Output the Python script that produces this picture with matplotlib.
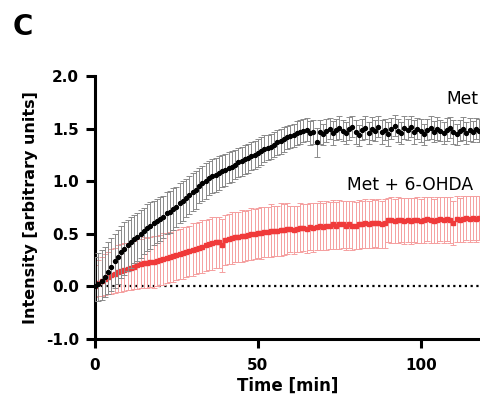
import matplotlib
matplotlib.use("Agg")
import matplotlib.pyplot as plt
import numpy as np

plt.rcParams['font.family'] = ['DejaVu Sans']

# tiempo en minutos (un punto por minuto)
tiempo = np.arange(0, 119)

# Met (negro)
met = [0.00, 0.02, 0.05, 0.09, 0.14, 0.19, 0.24, 0.28, 0.33, 0.36,
       0.39, 0.42, 0.45, 0.47, 0.50, 0.53, 0.56, 0.58, 0.60, 0.62,
       0.64, 0.66, 0.70, 0.71, 0.74, 0.76, 0.79, 0.81, 0.84, 0.87,
       0.90, 0.92, 0.96, 0.98, 1.00, 1.03, 1.05, 1.06, 1.08, 1.10,
       1.11, 1.13, 1.14, 1.16, 1.18, 1.19, 1.21, 1.22, 1.24, 1.25,
       1.27, 1.29, 1.31, 1.32, 1.33, 1.35, 1.37, 1.38, 1.40, 1.42,
       1.43, 1.44, 1.46, 1.47, 1.48, 1.49, 1.46, 1.47, 1.37, 1.47,
       1.45, 1.48, 1.50, 1.46, 1.49, 1.51, 1.48, 1.46, 1.50, 1.52,
       1.47, 1.44, 1.49, 1.51, 1.46, 1.50, 1.48, 1.52, 1.47, 1.49,
       1.45, 1.50, 1.53, 1.48, 1.46, 1.51, 1.49, 1.52, 1.47, 1.50,
       1.48, 1.45, 1.49, 1.51, 1.47, 1.50, 1.48, 1.46, 1.49, 1.51,
       1.47, 1.45, 1.48, 1.50, 1.46, 1.49, 1.47, 1.50, 1.48]
met_err = [0.28, 0.30, 0.30, 0.29, 0.28, 0.27, 0.26, 0.26, 0.25, 0.25,
           0.24, 0.24, 0.23, 0.23, 0.23, 0.22, 0.22, 0.22, 0.21, 0.21,
           0.21, 0.20, 0.20, 0.20, 0.20, 0.19, 0.19, 0.19, 0.18, 0.18,
           0.18, 0.18, 0.17, 0.17, 0.17, 0.16, 0.16, 0.16, 0.16, 0.15,
           0.15, 0.15, 0.15, 0.14, 0.14, 0.14, 0.14, 0.14, 0.13, 0.13,
           0.13, 0.13, 0.13, 0.12, 0.12, 0.12, 0.12, 0.12, 0.12, 0.11,
           0.11, 0.11, 0.11, 0.11, 0.11, 0.11, 0.11, 0.11, 0.14, 0.11,
           0.10, 0.11, 0.10, 0.11, 0.10, 0.11, 0.10, 0.10, 0.11, 0.10,
           0.11, 0.10, 0.10, 0.11, 0.10, 0.11, 0.10, 0.10, 0.11, 0.10,
           0.11, 0.10, 0.10, 0.11, 0.10, 0.11, 0.10, 0.10, 0.11, 0.10,
           0.11, 0.10, 0.10, 0.11, 0.10, 0.11, 0.10, 0.10, 0.11, 0.10,
           0.11, 0.10, 0.10, 0.11, 0.10, 0.11, 0.10, 0.10, 0.11]

# Met + 6-OHDA (rojo)
ohda = [0.00, 0.03, 0.05, 0.07, 0.09, 0.11, 0.12, 0.14, 0.15, 0.16,
        0.17, 0.18, 0.19, 0.20, 0.21, 0.22, 0.22, 0.23, 0.23, 0.24,
        0.25, 0.26, 0.27, 0.28, 0.29, 0.30, 0.31, 0.32, 0.33, 0.34,
        0.35, 0.36, 0.37, 0.38, 0.39, 0.40, 0.41, 0.42, 0.42, 0.39,
        0.44, 0.45, 0.46, 0.47, 0.47, 0.48, 0.48, 0.49, 0.50, 0.50,
        0.51, 0.51, 0.52, 0.52, 0.53, 0.53, 0.53, 0.54, 0.54, 0.55,
        0.55, 0.54, 0.55, 0.56, 0.56, 0.55, 0.57, 0.56, 0.57, 0.58,
        0.57, 0.58, 0.58, 0.59, 0.58, 0.59, 0.59, 0.58, 0.59, 0.58,
        0.58, 0.59, 0.59, 0.60, 0.59, 0.60, 0.60, 0.60, 0.59, 0.60,
        0.63, 0.63, 0.62, 0.63, 0.63, 0.62, 0.63, 0.62, 0.63, 0.63,
        0.62, 0.63, 0.64, 0.63, 0.62, 0.63, 0.64, 0.63, 0.64, 0.63,
        0.60, 0.64, 0.63, 0.64, 0.65, 0.64, 0.65, 0.64, 0.65]
ohda_err = [0.20, 0.22, 0.23, 0.24, 0.24, 0.25, 0.25, 0.25, 0.25, 0.25,
            0.24, 0.25, 0.24, 0.25, 0.24, 0.25, 0.24, 0.24, 0.25, 0.24,
            0.24, 0.25, 0.24, 0.24, 0.25, 0.24, 0.24, 0.25, 0.24, 0.24,
            0.25, 0.24, 0.24, 0.25, 0.24, 0.24, 0.25, 0.24, 0.24, 0.25,
            0.24, 0.24, 0.25, 0.24, 0.24, 0.25, 0.24, 0.24, 0.25, 0.24,
            0.24, 0.25, 0.24, 0.24, 0.25, 0.24, 0.24, 0.25, 0.24, 0.24,
            0.22, 0.23, 0.22, 0.23, 0.22, 0.23, 0.22, 0.23, 0.22, 0.23,
            0.22, 0.23, 0.22, 0.23, 0.22, 0.23, 0.22, 0.23, 0.22, 0.23,
            0.22, 0.23, 0.22, 0.23, 0.22, 0.23, 0.22, 0.23, 0.22, 0.23,
            0.21, 0.22, 0.21, 0.22, 0.21, 0.22, 0.21, 0.22, 0.21, 0.22,
            0.21, 0.22, 0.21, 0.22, 0.21, 0.22, 0.21, 0.22, 0.21, 0.22,
            0.21, 0.22, 0.21, 0.22, 0.21, 0.22, 0.21, 0.22, 0.21]

# eje y segmentado: la parte negativa va comprimida a la mitad
def adelante(y):
    y = np.asarray(y, dtype=float)
    return np.where(y < 0, y * 0.5, y)

def atras(y):
    y = np.asarray(y, dtype=float)
    return np.where(y < 0, y * 2.0, y)

fig = plt.figure(figsize=(4.81, 3.97), dpi=100)
ax = fig.add_axes([0.1975, 0.146, 0.8025, 0.662])
ax.set_yscale('function', functions=(adelante, atras))

ax.errorbar(tiempo, ohda, yerr=ohda_err, fmt='s', ms=2.6, color='#f03a3a',
            ecolor='#f5a0a0', elinewidth=0.7, capsize=2, capthick=0.7, zorder=2)
ax.errorbar(tiempo, met, yerr=met_err, fmt='o', ms=2.8, color='black',
            ecolor='#8a8a8a', elinewidth=0.7, capsize=2, capthick=0.7, zorder=3)

ax.axhline(0, color='black', linestyle=(0, (1, 1.6)), linewidth=1.6, zorder=1)

ax.set_xlim(0, 118.5)
ax.set_ylim(-1.0, 2.0)
ax.set_xticks([0, 50, 100])
ax.set_yticks([-1.0, 0.0, 0.5, 1.0, 1.5, 2.0])
ax.set_yticklabels(['-1.0', '0.0', '0.5', '1.0', '1.5', '2.0'])
ax.minorticks_off()

for lado in ['top', 'right']:
    ax.spines[lado].set_visible(False)
for lado in ['left', 'bottom']:
    ax.spines[lado].set_linewidth(2.2)
ax.tick_params(width=2.2, length=6.5, labelsize=11)
ax.tick_params(axis='x', pad=7)
ax.tick_params(axis='y', pad=5)
for etiqueta in ax.get_xticklabels() + ax.get_yticklabels():
    etiqueta.set_fontweight('bold')

ax.set_xlabel('Time [min]', fontsize=12, fontweight='bold', labelpad=3)
ax.set_ylabel('Intensity [arbitrary units]', fontsize=11.5, fontweight='bold', labelpad=6)

fig.text(478 / 481, 1 - 99 / 397, 'Met', ha='right', va='center', fontsize=12.3)
fig.text(473 / 481, 1 - 185 / 397, 'Met + 6-OHDA', ha='right', va='center', fontsize=12.3)

fig.text(0.026, 0.932, 'C', fontsize=20, fontweight='bold', va='center')

fig.savefig('out.png', dpi=100)
